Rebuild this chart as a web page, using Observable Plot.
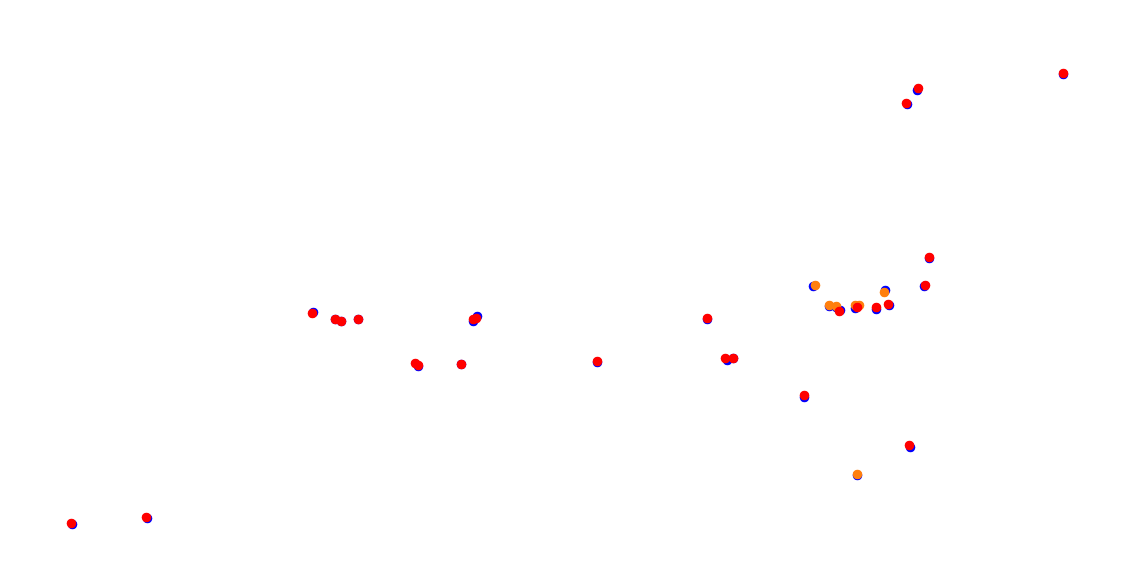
<!DOCTYPE html>
<html>
<head>
<meta charset="utf-8">
<script src="https://cdn.jsdelivr.net/npm/d3@7"></script>
<script src="https://cdn.jsdelivr.net/npm/@observablehq/plot@0.6"></script>
<style>
  html, body { margin: 0; padding: 0; background: #fff; }
</style>
</head>
<body>
<div id="chart"></div>
<script>
// Base layer (blue)
const blueX = [72, 147, 313, 335, 341, 358, 418, 461, 473, 477, 597, 707, 727, 733, 804, 910, 857, 813, 829, 836, 840, 855, 876, 885, 889, 924, 929, 907, 917, 1063];
const blueY = [524, 518, 312, 319, 321, 319, 366, 364, 321, 316, 362, 319, 360, 358, 397, 447, 475, 286, 306, 307, 310, 308, 309, 290, 305, 286, 258, 104, 90, 74];
// Middle layer (orange)
const orangeX = [857, 815, 829, 836, 855, 859, 884];
const orangeY = [474, 285, 305, 306, 305, 305, 292];
// Top layer (red)
const redX = [71, 146, 312, 335, 341, 358, 415, 418, 461, 473, 476, 597, 707, 725, 733, 804, 909, 839, 857, 876, 888, 925, 929, 906, 918, 1063];
const redY = [523, 517, 313, 319, 321, 319, 363, 365, 364, 319, 318, 361, 318, 358, 358, 395, 445, 311, 307, 307, 304, 285, 257, 103, 88, 73];

const toRows = (xs, ys) => xs.map((x, i) => ({x, y: ys[i]}));
const blue = toRows(blueX, blueY);
const orange = toRows(orangeX, orangeY);
const red = toRows(redX, redY);

const chart = Plot.plot({
  width: 1122,
  height: 574,
  margin: 0,
  x: {domain: [0, 1122], range: [0, 1122], axis: null},
  y: {domain: [0, 574], range: [0, 574], axis: null},
  marks: [
    Plot.dot(blue, {x: "x", y: "y", r: 4.8, fill: "#0000ff", stroke: "none"}),
    Plot.dot(orange, {x: "x", y: "y", r: 4.8, fill: "#ff7f0e", stroke: "none"}),
    Plot.dot(red, {x: "x", y: "y", r: 4.8, fill: "#ff0000", stroke: "none"})
  ]
});
document.getElementById("chart").appendChild(chart);
</script>
</body>
</html>
